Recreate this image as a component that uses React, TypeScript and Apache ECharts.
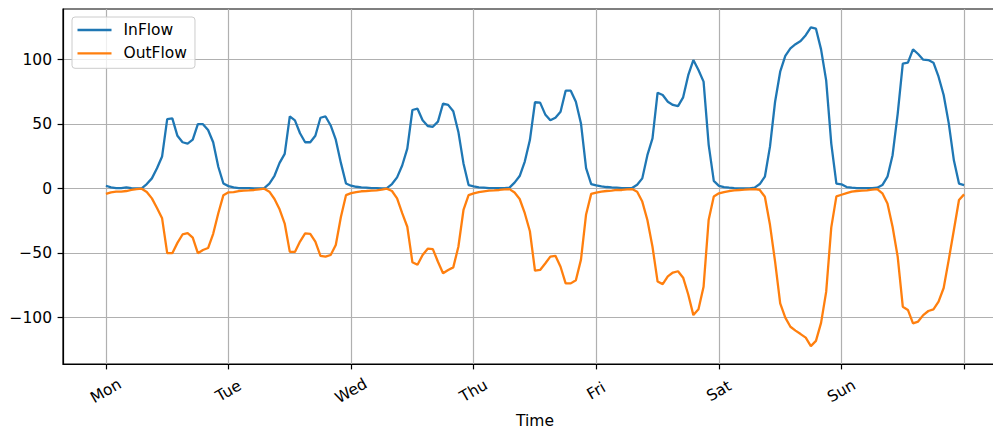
import { useEffect, useRef } from "react";
import * as echarts from "echarts";

const dayLabels = ["Mon", "Tue", "Wed", "Thu", "Fri", "Sat", "Sun"];
const tickHours = [0, 24, 48, 72, 96, 120, 144, 168];
const labelHours = [0, 24, 48, 72, 96, 120, 144];
const yTicks = [-100, -50, 0, 50, 100];

// hourly values, Mon 00:00 .. next Mon 00:00
const inflow = [
  2.3, 1, 0.5, 0.5, 1, 0.5, 0.3, 0.3, 3.6, 8, 15.8, 25, 54, 54.5, 41, 36, 35, 38, 50, 50, 45.5, 36, 17, 4,
  2, 1, 0.5, 0.5, 0.5, 0.3, 0.3, 0.5, 4, 10, 20, 27, 56, 53, 43, 36, 36, 41, 55, 56, 49, 38, 20, 4,
  2.3, 1.5, 1, 0.8, 0.5, 0.5, 0.3, 0.5, 3.6, 8.8, 18, 31, 61, 62, 53, 48.6, 48, 52, 66, 65, 60, 44, 19.6, 2.8,
  1.8, 1, 0.8, 0.5, 0.5, 0.5, 0.5, 0.8, 4.7, 9.8, 21, 37.7, 67, 66.7, 57.6, 53, 55, 59.7, 76, 76, 67.4, 50.6, 16, 3.6,
  2.6, 1.8, 1.3, 1, 0.8, 0.5, 0.5, 0.5, 3, 8, 26, 39, 74.4, 72.6, 67.4, 64.9, 64, 70.8, 88, 99.7, 92, 83, 34, 6,
  2.2, 1.3, 0.8, 0.5, 0.3, 0.3, 0.3, 0.8, 3.6, 9.3, 32.6, 67.4, 90.7, 103, 108.8, 112, 114.5, 119, 125, 124, 108, 84, 35, 4,
  3.4, 1.3, 0.8, 0.5, 0.5, 0.5, 0.5, 0.8, 2.8, 9.3, 26, 58, 97, 97.7, 108, 104.4, 100, 99.7, 97.7, 86.8, 72.6, 50.6, 22, 4,
  2.8,
];

const outflow = [
  -4, -2.8, -2.3, -2.2, -1.8, -1, -0.4, 0, -2.5, -7.5, -15, -23, -50, -50, -42, -35.5, -34.5, -38, -50, -47.5, -46, -35, -19, -5,
  -2.8, -2.6, -1.8, -1.5, -1.3, -1, -0.5, 0, -2.3, -8, -16, -27, -49, -49, -41, -34.6, -35, -41, -52, -52.7, -51.4, -43.7, -22, -5,
  -3.4, -2.6, -2, -1.8, -1.5, -1.3, -0.8, 0, -1.8, -7.5, -19, -29.5, -57, -59, -51.4, -46.5, -46.8, -56.6, -65.6, -63, -61, -45, -16.5, -5,
  -3.6, -2.6, -2, -1.5, -1.3, -1, -0.5, -0.3, -3, -8, -19, -33, -63.6, -63, -58, -52.7, -52, -60.5, -73.4, -73.4, -71, -55, -20, -4,
  -3, -2.3, -1.8, -1.5, -1, -1, -0.5, -0.3, -2.3, -10, -24.3, -45, -72, -74, -68, -65, -64, -69, -82, -98, -93.5, -76, -24, -6,
  -3.6, -2.6, -1.8, -1.3, -1, -0.8, -0.5, -0.3, -1, -6.2, -28, -56.6, -88.9, -100, -107, -110, -112.7, -115.5, -122, -118, -104, -80, -30, -6,
  -4.7, -3.4, -2.3, -1.8, -1.5, -1.3, -0.8, -0.3, -3.6, -11.4, -29.5, -52.7, -91.5, -94, -104.4, -103, -98, -94.8, -93.5, -87.6, -77, -55, -32, -8.8,
  -4.4,
];

const FONT = "DejaVu Sans";

export default function App() {
  const ref = useRef<HTMLDivElement>(null);
  useEffect(() => {
    const chart = echarts.init(ref.current!, null, { renderer: "svg" });
    chart.setOption({
      animation: false,
      textStyle: { fontFamily: FONT },
      grid: {
        left: 63,
        right: -14,
        top: 9,
        bottom: 63,
        containLabel: false,
        outerBoundsMode: "none",
        show: true,
        borderColor: "#000",
        borderWidth: 1.2,
        backgroundColor: "transparent",
      },
      legend: {
        orient: "vertical",
        left: 72,
        top: 17,
        padding: [5, 8, 7, 5.5],
        icon: "rect",
        itemWidth: 34,
        itemHeight: 2.3,
        itemGap: 7.3,
        borderColor: "#cccccc",
        borderWidth: 1,
        borderRadius: 3,
        backgroundColor: "rgba(255,255,255,0.8)",
        textStyle: { fontFamily: FONT, fontSize: 15.5, color: "#000", lineHeight: 16, padding: [0, 0, 0, 7] },
        data: ["InFlow", "OutFlow"],
      },
      xAxis: {
        type: "value",
        min: -8.4,
        max: 176.4,
        name: "Time",
        nameLocation: "middle",
        nameGap: 47,
        nameTextStyle: { fontFamily: FONT, fontSize: 15.5, color: "#000" },
        axisLine: { show: true, onZero: false, lineStyle: { color: "#000", width: 1.2 } },
        axisTick: { show: true, length: 5.4, customValues: tickHours, lineStyle: { color: "#000", width: 1.2 } },
        axisLabel: {
          customValues: labelHours,
          rotate: 30,
          align: "center",
          verticalAlign: "middle",
          margin: 27,
          fontFamily: FONT,
          fontSize: 15.5,
          color: "#000",
          formatter: (v: number) => dayLabels[Math.round(v / 24)] ?? "",
        },
        splitLine: { show: true, lineStyle: { color: "#b0b0b0", width: 1.2 } },
      },
      yAxis: {
        type: "value",
        min: -135.9,
        max: 139.3,
        axisLine: { show: true, onZero: false, lineStyle: { color: "#000", width: 1.2 } },
        axisTick: { show: true, length: 5.4, customValues: yTicks, lineStyle: { color: "#000", width: 1.2 } },
        axisLabel: {
          customValues: yTicks,
          margin: 11,
          fontFamily: FONT,
          fontSize: 15.5,
          color: "#000",
          formatter: (v: number) => String(v).replace("-", "\u2212"),
        },
        splitLine: { show: true, lineStyle: { color: "#b0b0b0", width: 1.2 } },
      },
      series: [
        {
          name: "InFlow",
          type: "line",
          data: inflow.map((v, i) => [i, v]),
          symbol: "none",
          lineStyle: { color: "#1f77b4", width: 2.3 },
          itemStyle: { color: "#1f77b4" },
          z: 3,
        },
        {
          name: "OutFlow",
          type: "line",
          data: outflow.map((v, i) => [i, v]),
          symbol: "none",
          lineStyle: { color: "#ff7f0e", width: 2.3 },
          itemStyle: { color: "#ff7f0e" },
          z: 3,
        },
      ],
    });
    return () => chart.dispose();
  }, []);
  return (
    <div
      ref={ref}
      style={{ position: "fixed", left: 0, top: 0, width: 993, height: 427, background: "#fff" }}
    />
  );
}
